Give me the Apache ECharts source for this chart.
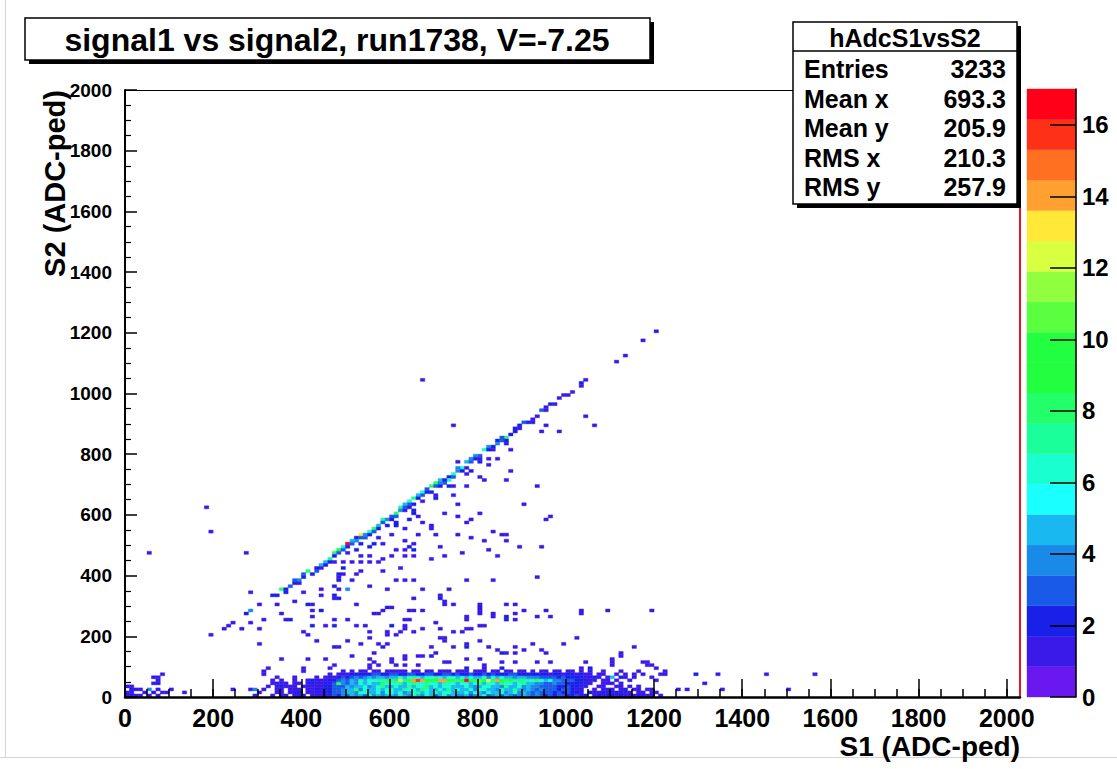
<!DOCTYPE html>
<html><head><meta charset="utf-8">
<script src="https://cdn.jsdelivr.net/npm/echarts@6/dist/echarts.min.js"></script>
<style>html,body{margin:0;padding:0;background:#fff}#c{width:1117px;height:769px}</style>
</head><body><div id="c"></div>
<script>
// ---------------- text ----------------
const titleText = 'signal1 vs signal2, run1738, V=-7.25';
const statsName = 'hAdcS1vsS2';
const statsLabels = ['Entries', 'Mean x', 'Mean y', 'RMS x', 'RMS y'];
const statsValues = ['3233', '693.3', '205.9', '210.3', '257.9'];
const xTitle = 'S1 (ADC-ped)';
const yTitle = 'S2 (ADC-ped)';
// ---------------- axes ----------------
const xMajorTicks = [0, 200, 400, 600, 800, 1000, 1200, 1400, 1600, 1800, 2000];
const yMajorTicks = [0, 200, 400, 600, 800, 1000, 1200, 1400, 1600, 1800, 2000];
const zTicks = [0, 2, 4, 6, 8, 10, 12, 14, 16];
const xRange = [0, 2030];
const yRange = [0, 2000];
const zRange = [0, 17];
const binX = 10, binY = 10;
// ---------------- dense band near S2 = 0 (counts per 10-wide S1 bin, S1 = 280 ... 1090) ----------------
const bandStartS1 = 280;
const bandRow0 = [0,1,0,0,0,1,0,1,1,0,1,1,1,0,1,1, 1,2,1,3,2,4,3,5,4,5,3,6,4,5,4,5, 5,4,6,5,4,6,5,4,6,5,3,5,6,4,5,4, 4,5,3,4,5,6,3,4,5,3,5,4,3,4,5,4, 3,4,3,2,3,2,3,3,2,2,3,1,2,0,1,2,1,2];
const bandRow1 = [0,0,1,0,0,0,1,1,0,1,1,2,0,1,1,1, 1,2,2,3,3,4,5,5,4,6,6,5,5,6,4,6, 6,5,6,4,5,6,7,5,6,5,7,5,6,6,5,5, 5,6,4,6,5,4,6,5,5,6,4,5,6,4,5,4, 3,4,3,3,3,2,3,2,3,2,2,1,0,2,1,1,2,1];
const bandRow2 = [1,4,0,1,0,0,1,1,0,1,1,1,0,1,1,2, 1,2,2,3,3,4,5,5,8,4,6,5,5,6,5,6, 6,5,5,7,6,6,5,8,6,5,5,6,5,7,5,6, 5,5,6,4,6,6,5,5,4,6,5,5,7,5,4,5, 4,3,4,3,3,3,2,3,3,2,1,2,0,0,1,0,1,1];
const bandRow3 = [0,0,0,0,1,0,1,2,1,1,1,0,1,1,1,1, 1,2,2,3,3,3,5,4,5,5,6,4,5,6,7,5, 5,6,5,5,7,5,6,6,8,5,6,5,6,6,5,5, 5,6,5,4,5,6,6,5,5,4,7,5,5,6,4,5, 4,4,3,3,3,3,2,2,3,2,2,1,1,0,0,1,1,0];
const bandRow4 = [0,0,0,0,0,1,1,1,1,0,1,1,0,1,2,1, 1,2,1,3,8,4,3,5,4,6,5,6,5,5,8,6, 6,6,7,5,6,8,6,6,7,6,6,5,7,6,6,5, 6,6,5,6,7,5,6,6,5,8,6,6,5,6,7,5, 5,4,4,3,3,4,3,3,2,2,2,2,1,1,0,0,1,1];
const bandRow5 = [0,0,0,0,0,1,0,1,0,0,1,0,0,1,2,1, 1,1,2,2,3,4,3,5,4,6,5,6,6,7,7,8, 7,9,12,8,10,14,16,14,10,9,10,14,14,9,10,8, 9,17,10,8,11,9,12,8,14,10,8,9,7,8,7,7, 6,8,6,5,6,4,4,3,3,3,2,2,2,1,1,0,1,1];
const bandRow6 = [0,0,0,0,0,0,1,0,0,0,1,0,0,0,0,1, 0,1,1,1,2,3,2,3,4,3,4,5,4,5,5,4, 5,5,6,5,6,7,6,5,6,6,7,6,5,6,6,5, 6,5,6,5,5,6,4,6,5,6,5,5,4,5,5,4, 4,4,3,3,3,3,2,3,2,2,2,2,1,1,2,1,0,1];
const bandRow7 = [0,0,0,1,0,0,0,0,0,0,0,0,0,0,0,0, 0,0,1,0,1,1,1,2,2,2,2,2,3,3,2,2, 3,3,2,2,3,3,2,2,3,3,2,2,3,3,2,3, 2,2,3,2,2,3,2,3,2,2,2,3,3,2,2,2, 2,2,2,2,1,2,2,1,2,2,1,2,1,1,0,1,1,0];
const bandRow8 = [0,0,0,1,0,0,0,0,0,0,0,0,1,0,0,0, 0,0,0,0,0,1,0,1,0,1,1,0,1,1,0,1, 1,1,1,1,0,1,1,0,1,1,0,1,1,1,0,1, 1,1,0,1,1,1,0,1,1,0,1,1,0,1,1,0, 1,0,1,1,0,1,1,0,1,1,0,1,0,1,0,0,1,0];
const bandRows = [bandRow0, bandRow1, bandRow2, bandRow3, bandRow4, bandRow5, bandRow6, bandRow7, bandRow8];
// ---------------- diagonal (S2 ~ S1) : [S1 bin, S2 bin, count] ----------------
const diagonalCells = [
[1200,1200,2],[1170,1170,1],[1130,1120,1],[1110,1100,1],[1040,1040,1],[1030,1030,2],[1030,1020,1],
[990,990,1],[1010,1000,1],[960,960,2],[970,960,1],[940,940,3],[950,940,1],[930,920,1],[920,910,1],
[900,900,3],[890,890,2],[880,880,2],[870,860,2],[860,850,8],[840,840,2],[840,830,4],[830,820,2],
[810,810,6],[800,790,3],[780,780,4],[770,770,5],[760,750,6],[740,730,6],[730,720,2],[730,710,6],
[720,700,3],[700,700,9],[690,690,8],[680,680,3],[670,670,6],[690,670,2],[660,660,5],[650,650,7],
[640,640,6],[640,630,3],[650,630,2],[630,630,5],[610,600,8],[600,590,3],[580,580,7],[570,560,5],
[560,550,8],[550,540,6],[530,530,13],[540,520,3],[520,520,2],[500,500,17],[480,480,9],[470,470,8],
[460,450,7],[450,440,5],[440,430,5],[430,410,3],[410,410,8],[400,400,3],[390,380,4],[380,380,3],
[370,360,3],[350,350,8],[360,350,2],[280,280,4],[270,270,2],[240,240,1],[230,230,1],[220,220,1],
[620,620,7],[710,710,5],[790,790,4],[820,820,4],[850,850,3],[750,750,4],[490,490,6],[510,510,5],
[360,340,2],[380,370,2],[390,370,1],[400,390,2],[420,400,2],[430,420,2],[440,420,1],[450,430,2],
[460,440,2],[470,460,2],[480,470,3],[490,480,3],[500,490,2],[510,500,3],[520,510,4],[530,520,3],
[540,530,4],[550,530,2],[560,540,3],[570,550,2],[580,570,3],[590,580,4],[600,580,2],[610,590,3],
[620,610,4],[630,620,3],[640,620,2],[660,650,2],[670,660,3],[680,670,2],[700,690,3],[710,700,4],
[720,710,2],[740,720,3],[750,740,4],[760,740,2],[780,770,3],[790,780,2],[820,810,2],[830,810,1],
[850,840,3],[860,840,2],[880,870,2],[890,880,1],[910,900,2],[920,900,1],[950,950,1],[980,980,1],[1000,990,1]
];
// ---------------- scattered cells between band and diagonal ----------------
const scatterCells = [
[670,1040,1],[1040,920,1],[1060,890,1],[950,890,1],[740,890,1],[940,870,1],[980,870,1],[860,830,1],
[870,810,1],[820,780,1],[840,780,1],[800,780,1],[800,770,2],[820,760,1],[750,770,1],[770,750,1],
[780,740,2],[870,740,1],[770,730,1],[800,720,1],[810,710,1],[860,710,1],[710,690,2],[730,690,2],
[740,690,1],[770,690,1],[930,690,1],[700,660,1],[740,660,1],[700,650,2],[670,640,1],[750,630,1],
[900,630,1],[630,610,1],[650,600,2],[640,580,2],[660,590,1],[720,600,1],[800,600,1],[750,590,1],
[780,580,1],[770,570,1],[670,570,1],[690,550,1],[950,580,1],[960,590,1],[630,550,1],[660,530,1],
[750,530,1],[780,520,1],[830,540,1],[850,530,1],[860,530,1],[810,510,1],[860,510,1],[940,490,1],
[650,480,2],[710,490,1],[820,480,1],[760,470,1],[720,460,1],[840,460,1],[650,460,1],[690,450,1],
[630,510,1],[630,480,1],[530,500,2],[520,480,2],[500,470,1],[550,490,2],[530,460,1],[560,500,2],
[580,500,1],[610,480,1],[630,460,1],[640,490,2],[650,500,1],[570,520,1],[600,530,1],[590,560,2],
[610,560,2],[610,570,2],[650,610,2],[690,560,1],[700,530,1],[470,440,1],[490,440,1],[510,440,1],
[530,440,1],[550,440,1],[550,460,1],[570,440,1],[580,450,1],[600,460,1],[620,420,1],[580,410,1],
[530,410,1],[490,420,2],[520,400,1],[480,400,2],[490,400,1],[510,380,1],[480,380,2],[480,390,1],
[470,360,2],[480,350,1],[500,350,4],[550,360,1],[590,350,1],[610,380,1],[630,380,1],[650,380,1],
[670,350,1],[730,350,1],[770,380,1],[830,380,1],[470,330,2],[470,320,1],[480,320,2],[440,350,1],
[440,330,1],[410,300,2],[420,300,1],[440,280,2],[400,340,1],[380,310,1],[340,330,2],[330,330,2],
[340,300,1],[300,300,1],[280,240,1],[260,220,1],[310,250,1],[360,250,1],[350,270,1],[300,220,1],
[300,170,1],[350,120,1],[270,470,1],[280,340,1],[420,280,1],[420,260,1],[370,250,2],[400,210,1],
[410,200,1],[420,230,2],[450,230,1],[470,230,2],[470,250,1],[500,250,1],[520,230,1],[540,230,1],
[560,270,1],[580,280,1],[600,230,2],[630,220,1],[640,280,1],[670,280,1],[650,210,1],[670,220,1],
[640,250,1],[710,320,2],[710,330,1],[720,300,1],[740,300,1],[650,320,1],[590,290,2],[600,290,1],
[520,300,1],[800,290,2],[800,300,1],[800,280,1],[770,250,1],[860,250,2],[880,250,1],[830,270,1],
[740,210,1],[800,230,1],[720,190,1],[770,160,2],[770,170,1],[820,160,1],[850,140,2],[860,140,1],
[880,140,1],[880,160,1],[690,160,1],[690,130,2],[700,140,1],[660,130,1],[630,130,1],[580,160,2],
[560,140,1],[510,130,1],[550,190,1],[590,210,1],[470,160,2],[480,160,1],[500,180,1],[430,180,1],
[410,120,1],[470,100,1],[550,100,1],[600,110,1],[630,100,1],[660,100,1],[730,110,1],[770,90,2],
[810,90,1],[850,90,2],[720,310,1],[860,300,1],[880,300,1],[570,270,1],[650,280,1],[770,260,1],
[800,270,1],[830,260,1],[860,260,2],[880,270,1],[900,280,1],[930,260,1],[960,260,1],[1030,270,1],
[1090,280,1],[1190,280,1],[630,230,1],[700,240,1],[630,250,1],[810,230,1],[550,210,1],[590,200,1],
[610,200,1],[620,210,1],[710,220,1],[760,210,1],[770,220,1],[780,220,1],[530,170,1],[570,170,1],
[590,170,1],[710,190,1],[720,180,1],[740,160,1],[800,180,1],[840,150,1],[900,150,1],[920,170,1],
[940,150,1],[950,140,1],[990,170,1],[1020,190,1],[1120,140,1],[550,120,1],[560,110,1],[570,100,1],
[600,120,1],[610,100,1],[630,120,1],[670,130,1],[720,110,1],[770,120,1],[800,120,1],[810,100,1],
[850,110,1],[880,110,1],[930,110,1],[960,110,1],[1040,110,1],[1030,90,1],[1050,90,2],[1100,100,1],
[1170,110,1],[1190,100,1],[1220,80,1],[950,280,1],[1030,280,1],[890,490,1],[930,390,1],
[180,620,1],[190,540,1],[50,470,1],[190,200,1],[320,90,1],[400,90,1],[460,90,1],[550,90,1],[450,120,1]
];
// ---------------- band edges outside the dense region ----------------
const edgeCells = [
[0,0,1],[10,0,2],[20,0,1],[30,0,1],[50,0,1],[70,0,1],[0,10,1],[10,10,1],[40,10,1],[60,10,2],[80,10,1],
[10,20,2],[20,20,1],[30,20,1],[50,20,4],[70,20,1],[0,30,1],[10,30,1],[60,40,1],[70,40,2],[70,50,1],
[60,60,2],[70,60,1],[80,70,1],[90,10,1],[130,10,1],[240,20,1],[100,20,1],
[1100,0,2],[1110,0,1],[1120,0,2],[1130,0,1],[1140,0,1],[1150,0,1],[1160,0,2],[1170,0,1],[1180,0,1],[1190,0,1],[1210,0,1],
[1100,10,1],[1110,10,2],[1120,10,1],[1130,10,1],[1140,10,1],[1160,10,1],[1170,10,1],[1190,10,1],[1200,10,1],
[1100,20,1],[1120,20,1],[1130,20,2],[1150,20,1],[1160,20,1],[1180,20,1],[1190,20,1],
[1110,30,1],[1120,30,1],[1140,30,1],[1160,30,1],[1100,40,1],[1120,40,1],[1110,50,1],[1140,50,1],
[1100,60,5],[1110,70,1],[1120,60,2],[1130,60,1],[1130,70,1],[1150,60,1],[1150,70,1],[1120,80,1],
[1160,80,1],[1170,70,1],[1190,60,1],[1200,90,1],[1210,70,1],
[1220,70,1],[1200,50,1],[1100,120,1],[1120,130,1],[1180,110,1],[1290,70,2],[1340,70,1],[1310,40,1],
[1450,70,1],[1560,70,1],[1250,20,1],[1270,20,1],[1350,20,1],[1500,20,1],[1150,160,1],[1100,110,1],[1180,100,1]
];
// ---------------- palette (ROOT rainbow, 20 levels, bottom -> top) ----------------
const palette = ['#6a18f0','#3a1ae8','#1a20e8','#1a5ae8','#1a8ae8','#1ab8f0','#1affff','#1affd0','#1aff9a','#22ff6a',
                 '#22ff40','#22ff40','#5aff40','#90ff40','#d8ff40','#ffe838','#ffa030','#ff7020','#ff3018','#ff0018'];

// ---------------- build ----------------
const cells = [];
bandRows.forEach((row, r) => row.forEach((v, i) => { if (v > 0) cells.push([bandStartS1 + i * binX, r * binY, v]); }));
diagonalCells.concat(scatterCells, edgeCells).forEach(c => cells.push(c));

const levelStep = (zRange[1] - zRange[0]) / palette.length;
const pieces = palette.map((c, i) => (i === palette.length - 1)
  ? { gte: zRange[0] + i * levelStep, color: c }
  : { gte: zRange[0] + i * levelStep, lt: zRange[0] + (i + 1) * levelStep, color: c });
const levels = palette.map((c, i) => [i]);
const xMinorTicks = []; for (let v = xRange[0]; v <= 2000; v += 50) xMinorTicks.push(v);
const plain = v => String(v);

const FONT = '"Liberation Sans", Arial, Helvetica, sans-serif';
const chart = echarts.init(document.getElementById('c'), null, { renderer: 'svg', width: 1117, height: 769 });

const option = {
  backgroundColor: '#ffffff',
  animation: false,
  grid: [
    { left: 125, top: 90, width: 895, height: 607 },
    { left: 1027, top: 89, width: 49, height: 608 }
  ],
  visualMap: { type: 'piecewise', show: false, seriesIndex: 0, dimension: 2, pieces: pieces },
  xAxis: [
    { gridIndex: 0, type: 'value', position: 'bottom', min: xRange[0], max: xRange[1], z: 10,
      axisLine: { show: true, onZero: false, lineStyle: { color: '#000', width: 2.5 } },
      axisTick: { show: true, inside: true, length: 18, customValues: xMajorTicks, lineStyle: { color: '#000', width: 1.5 } },
      axisLabel: { customValues: xMajorTicks, formatter: plain, fontSize: 25, fontWeight: 'bold', color: '#000', fontFamily: FONT, margin: 8 },
      splitLine: { show: false } },
    { gridIndex: 0, type: 'value', position: 'bottom', min: xRange[0], max: xRange[1], z: 10,
      axisLine: { show: false },
      axisTick: { show: true, inside: true, length: 8, customValues: xMinorTicks, lineStyle: { color: '#000', width: 1.5 } },
      axisLabel: { show: false }, splitLine: { show: false } },
    { gridIndex: 0, type: 'value', position: 'top', min: xRange[0], max: xRange[1], z: 10,
      axisLine: { show: true, onZero: false, lineStyle: { color: '#000', width: 1 } },
      axisTick: { show: false }, axisLabel: { show: false }, splitLine: { show: false } },
    { gridIndex: 1, type: 'value', min: 0, max: 1, show: false }
  ],
  yAxis: [
    { gridIndex: 0, type: 'value', position: 'left', min: yRange[0], max: yRange[1], interval: 200, z: 10,
      axisLine: { show: true, onZero: false, lineStyle: { color: '#000', width: 2 } },
      axisTick: { show: true, inside: true, length: 12, lineStyle: { color: '#000', width: 1.5 } },
      minorTick: { show: true, splitNumber: 4, length: 6, lineStyle: { color: '#000', width: 1.2 } },
      axisLabel: { customValues: yMajorTicks, formatter: plain, fontSize: 19, fontWeight: 'bold', color: '#000', fontFamily: FONT, margin: 13 },
      splitLine: { show: false }, minorSplitLine: { show: false } },
    { gridIndex: 0, type: 'value', position: 'right', min: yRange[0], max: yRange[1], z: 10,
      axisLine: { show: true, onZero: false, lineStyle: { color: '#e8141e', width: 2 } },
      axisTick: { show: false }, axisLabel: { show: false }, splitLine: { show: false } },
    { gridIndex: 1, type: 'value', position: 'right', min: zRange[0], max: zRange[1], z: 10,
      axisLine: { show: true, onZero: false, lineStyle: { color: '#000', width: 1.5 } },
      axisTick: { show: true, inside: true, length: 26, customValues: zTicks, lineStyle: { color: '#000', width: 1.5 } },
      axisLabel: { customValues: zTicks, formatter: plain, fontSize: 24, fontWeight: 'bold', color: '#000', fontFamily: FONT, margin: 6 },
      splitLine: { show: false } }
  ],
  series: [
    { type: 'custom', name: statsName, xAxisIndex: 0, yAxisIndex: 0, z: 2, clip: true,
      dimensions: ['S1', 'S2', 'count'], encode: { x: 0, y: 1 },
      data: cells,
      renderItem: function (params, api) {
        const x = api.value(0), y = api.value(1);
        const p0 = api.coord([x, y + binY]);
        const p1 = api.coord([x + binX, y]);
        const col = api.visual('color');
        return { type: 'rect', shape: { x: p0[0], y: p0[1], width: p1[0] - p0[0], height: p1[1] - p0[1] },
                 style: { fill: col, stroke: col, lineWidth: 0.4 } };
      } },
    { type: 'custom', name: 'palette', xAxisIndex: 3, yAxisIndex: 2, z: 2,
      data: levels,
      renderItem: function (params, api) {
        const i = api.value(0);
        const p0 = api.coord([0, zRange[0] + (i + 1) * levelStep]);
        const p1 = api.coord([1, zRange[0] + i * levelStep]);
        return { type: 'rect', shape: { x: p0[0], y: p0[1], width: p1[0] - p0[0], height: p1[1] - p0[1] },
                 style: { fill: palette[i], stroke: palette[i], lineWidth: 0.4 } };
      } }
  ],
  graphic: [
    { type: 'line', shape: { x1: 5.5, y1: 0, x2: 5.5, y2: 757 }, style: { stroke: '#d4d4d4', lineWidth: 1 }, z: 1 },
    { type: 'line', shape: { x1: 0, y1: 757.5, x2: 1117, y2: 757.5 }, style: { stroke: '#d4d4d4', lineWidth: 1 }, z: 1 },
    // title box
    { type: 'rect', shape: { x: 29, y: 22, width: 625, height: 42 }, style: { fill: '#000' }, z: 50 },
    { type: 'rect', shape: { x: 25, y: 18, width: 625, height: 42 }, style: { fill: '#fff', stroke: '#000', lineWidth: 1.5 }, z: 51 },
    { type: 'text', x: 337, y: 40, z: 52, style: { text: titleText, fill: '#000', font: 'bold 32px ' + FONT, align: 'center', verticalAlign: 'middle' } },
    // stats box
    { type: 'rect', shape: { x: 797, y: 26, width: 224, height: 182 }, style: { fill: '#000' }, z: 50 },
    { type: 'rect', shape: { x: 793, y: 22, width: 224, height: 182 }, style: { fill: '#fff', stroke: '#000', lineWidth: 1.5 }, z: 51 },
    { type: 'line', shape: { x1: 793, y1: 51, x2: 1017, y2: 51 }, style: { stroke: '#000', lineWidth: 1.5 }, z: 52 },
    { type: 'text', x: 905, y: 38, z: 52, style: { text: statsName, fill: '#000', font: 'bold 25px ' + FONT, align: 'center', verticalAlign: 'middle' } },
    ...statsLabels.map((t, i) => ({ type: 'text', x: 804, y: 69 + i * 29.5, z: 52,
      style: { text: t, fill: '#000', font: 'bold 25px ' + FONT, align: 'left', verticalAlign: 'middle' } })),
    ...statsValues.map((t, i) => ({ type: 'text', x: 1006, y: 69 + i * 29.5, z: 52,
      style: { text: t, fill: '#000', font: 'bold 25px ' + FONT, align: 'right', verticalAlign: 'middle' } })),
    // axis titles
    { type: 'text', x: 1020, y: 746, z: 52, style: { text: xTitle, fill: '#000', font: 'bold 28px ' + FONT, align: 'right', verticalAlign: 'middle' } },
    { type: 'text', x: 55, y: 90, rotation: Math.PI / 2, z: 52, style: { text: yTitle, fill: '#000', font: 'bold 29px ' + FONT, align: 'right', verticalAlign: 'middle' } }
  ]
};
chart.setOption(option);
</script>
</body></html>
